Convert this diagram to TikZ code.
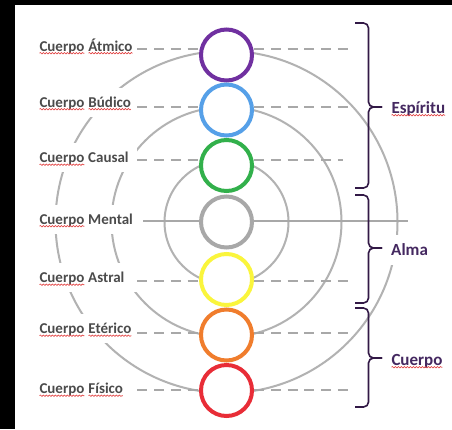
\documentclass[tikz,border=0pt]{standalone}
\usepackage{fontspec}
\setmainfont{Carlito}
\usetikzlibrary{decorations.pathmorphing}
\definecolor{purpleC}{RGB}{112,48,160}
\definecolor{blueC}{RGB}{86,160,232}
\definecolor{greenC}{RGB}{50,176,75}
\definecolor{grayC}{RGB}{168,168,168}
\definecolor{yellowC}{RGB}{250,245,60}
\definecolor{orangeC}{RGB}{240,125,45}
\definecolor{redC}{RGB}{232,45,55}
\definecolor{arcgray}{RGB}{178,178,178}
\definecolor{dashgray}{RGB}{168,168,168}
\definecolor{labgray}{RGB}{75,75,75}
\definecolor{grpcol}{RGB}{68,40,96}
\definecolor{bracecol}{RGB}{50,25,70}
\definecolor{sqred}{RGB}{225,60,60}
\newcommand\sq[1]{\tikz[baseline=(sqw.base), x=1pt, y=1pt]{%
  \node[inner sep=0pt, outer sep=0pt, fill=none, draw=none, minimum height=0pt,
    minimum width=0pt, text height={}, text depth={}, anchor=base] (sqw) {#1};
  \draw[sqred, line width=0.6pt, decorate,
    decoration={snake, amplitude=0.7pt, segment length=3pt}]
    ([yshift=-2.2pt]sqw.base west) -- ([yshift=-2.2pt]sqw.base east);}}
\newcommand\lbox[1]{\makebox[95pt][l]{#1}}
\begin{document}
\begin{tikzpicture}[x=1pt,y=-1pt,
  arcline/.style={draw=arcgray, line width=2pt},
  guide/.style={draw=dashgray, line width=2.2pt, dash pattern=on 10pt off 6.7pt},
  solidguide/.style={draw=dashgray, line width=2.2pt},
  lab/.style={fill=white, anchor=west, inner xsep=3pt, inner ysep=0pt, minimum height=29pt,
    text height=10pt, text depth=0pt, text=labgray, font=\fontsize{15}{18}\selectfont\bfseries},
  grp/.style={fill=white, anchor=west, inner xsep=3pt, inner ysep=0pt, minimum height=30pt,
    text height=11pt, text depth=0pt, text=grpcol, font=\fontsize{17}{20}\selectfont\bfseries},
  ring/.style={circle, fill=white, line width=4pt, minimum size=51pt, inner sep=0pt},
  bracepath/.style={draw=bracecol, line width=1.6pt, rounded corners=5pt}]
\useasboundingbox (0,0) rectangle (452,429);
\fill[black] (0,0) rectangle (452,429);
\fill[white] (15,5) rectangle (452,429);

% concentric gray circles
\coordinate (c) at (226.5,222);
\draw[arcline] (c) circle[radius=62];
\draw[arcline] (c) circle[radius=115];
\draw[arcline] (c) circle[radius=171];

% guide line end points
\coordinate (e1) at (349,49);
\coordinate (e2) at (350,107);
\coordinate (e3) at (343,160);
\coordinate (e4) at (408,221);
\coordinate (e5) at (348,281);
\coordinate (e6) at (351,333);
\coordinate (e7) at (350,390);

% left labels
\node[lab] (a1) at (36,46)    {\lbox{\sq{Cuerpo} \sq{Átmico}}};
\node[lab] (a2) at (36,102)   {\lbox{\sq{Cuerpo} \sq{Búdico}}};
\node[lab] (a3) at (36,157.5) {\lbox{\sq{Cuerpo} Causal}};
\node[lab] (a4) at (36,219)   {\lbox{\sq{Cuerpo} Mental}};
\node[lab] (a5) at (36,277.5) {\lbox{\sq{Cuerpo} Astral}};
\node[lab] (a6) at (36,328.5) {\lbox{\sq{Cuerpo} \sq{Etérico}}};
\node[lab] (a7) at (36,388.5) {\lbox{\sq{Cuerpo} \sq{Físico}}};

% guide lines
\draw[guide] (a1.east |- e1) -- (e1);
\draw[guide] (a2.east |- e2) -- (e2);
\draw[guide] (a3.east |- e3) -- (e3);
\draw[solidguide] ([xshift=6pt]a4.east |- e4) -- (e4);
\draw[guide] (a5.east |- e5) -- (e5);
\draw[guide] (a6.east |- e6) -- (e6);
\draw[guide] (a7.east |- e7) -- (e7);

% colored rings
\node[ring, draw=purpleC] (k1) at (226.5,55)  {};
\node[ring, draw=blueC]   (k2) at (226.5,110) {};
\node[ring, draw=greenC]  (k3) at (226.5,165.5) {};
\node[ring, draw=grayC]   (k4) at (226.5,222) {};
\node[ring, draw=yellowC] (k5) at (226.5,279.5) {};
\node[ring, draw=orangeC] (k6) at (226.5,335) {};
\node[ring, draw=redC]    (k7) at (226.5,390.5) {};

% braces
\draw[bracepath] (355,23)  -- (368.5,23)  -- (368.5,107) -- (382,107);
\draw[bracepath] (355,188) -- (368.5,188) -- (368.5,107) -- (382,107);
\draw[bracepath] (355,195) -- (368.5,195) -- (368.5,248) -- (382,248);
\draw[bracepath] (355,303) -- (368.5,303) -- (368.5,248) -- (382,248);
\draw[bracepath] (355,308) -- (368.5,308) -- (368.5,358) -- (382,358);
\draw[bracepath] (355,407) -- (368.5,407) -- (368.5,358) -- (382,358);

% group labels
\node[grp] (g1) at (388,107.5) {\sq{Espíritu}};
\node[grp] (g2) at (388,249.5) {Alma};
\node[grp] (g3) at (388,359.5) {\sq{Cuerpo}};
\end{tikzpicture}
\end{document}
